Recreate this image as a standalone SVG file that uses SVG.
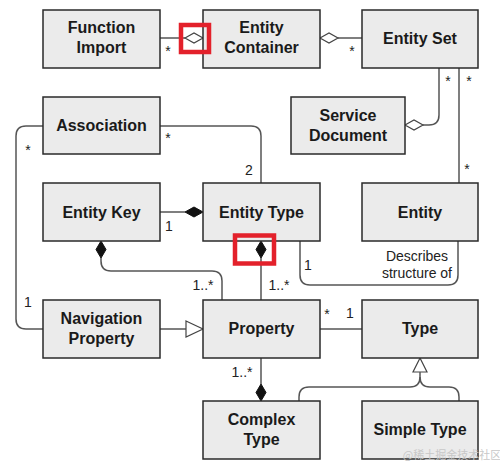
<svg xmlns="http://www.w3.org/2000/svg" width="500" height="465" viewBox="0 0 500 465">
<style>
.box{fill:#ebebeb;stroke:#2a2a2a;stroke-width:1.5}
.t{font-family:"Liberation Sans",Arial,sans-serif;font-weight:bold;font-size:16px;fill:#1a1a1a;text-anchor:middle}
.l{font-family:"Liberation Sans",Arial,sans-serif;font-size:14px;fill:#222;text-anchor:middle}
.c{fill:none;stroke:#555;stroke-width:1.5}
.fd{fill:#111;stroke:#111;stroke-width:1}
.hd{fill:#fff;stroke:#444;stroke-width:1.2}
.hl{fill:none;stroke:#e3212b;stroke-width:4.5}
</style>
<rect width="500" height="465" fill="#fff"/>
<g id="connectors">
  <path class="c" d="M160,38 H185"/>
  <polygon class="hd" points="185,38 194,33 203,38 194,43"/>
  <path class="c" d="M338,38 H362"/>
  <polygon class="hd" points="320,38 329,33 338,38 329,43"/>
  <path class="c" d="M160,126 H251 Q261,126 261,136 V183"/>
  <path class="c" d="M43,126 H26 Q16,126 16,136 V319 Q16,329 26,329 H43"/>
  <path class="c" d="M160,212 H185"/>
  <polygon class="fd" points="185,212 194,207 203,212 194,217"/>
  <polygon class="fd" points="101,241 106,249.5 101,258 96,249.5"/>
  <path class="c" d="M101,258 V261 Q101,271 111,271 H212 Q222,271 222,281 V300"/>
  <polygon class="fd" points="261,241 266,249.5 261,258 256,249.5"/>
  <path class="c" d="M261,258 V300"/>
  <path class="c" d="M300,241 V275 Q300,285 310,285 H448 Q458,285 458,275 V241"/>
  <path class="c" d="M459,68 V183"/>
  <path class="c" d="M439,68 V115 Q439,125 429,125 H423"/>
  <polygon class="hd" points="405,125 414,120 423,125 414,130"/>
  <path class="c" d="M160,329 H186"/>
  <polygon class="hd" points="186,321 203,329 186,337"/>
  <path class="c" d="M320,329 H362"/>
  <path class="c" d="M261,358 V384"/>
  <polygon class="fd" points="261,384 266,392.5 261,401 256,392.5"/>
  <polygon class="hd" points="420,358 427,372 413,372"/>
  <path class="c" d="M420,372 V377 Q420,387 410,387 H309 Q299,387 299,397 V401"/>
  <path class="c" d="M420,377 Q420,387 430,387 H449 Q459,387 459,397 V401"/>
</g>
<g id="function-import"><rect class="box" x="43" y="10" width="117" height="58"/><text class="t" x="101.5" y="33">Function</text><text class="t" x="101.5" y="53">Import</text></g>
<g id="entity-container"><rect class="box" x="203" y="10" width="117" height="58"/><text class="t" x="261.5" y="33">Entity</text><text class="t" x="261.5" y="53">Container</text></g>
<g id="entity-set"><rect class="box" x="362" y="10" width="116" height="58"/><text class="t" x="420" y="44">Entity Set</text></g>
<g id="association"><rect class="box" x="43" y="97" width="117" height="57"/><text class="t" x="101.5" y="131">Association</text></g>
<g id="service-document"><rect class="box" x="291" y="97" width="114" height="57"/><text class="t" x="348" y="121">Service</text><text class="t" x="348" y="141">Document</text></g>
<g id="entity-key"><rect class="box" x="43" y="183" width="117" height="58"/><text class="t" x="101.5" y="218">Entity Key</text></g>
<g id="entity-type"><rect class="box" x="203" y="183" width="117" height="58"/><text class="t" x="261.5" y="218">Entity Type</text></g>
<g id="entity"><rect class="box" x="362" y="183" width="116" height="58"/><text class="t" x="420" y="218">Entity</text></g>
<g id="navigation-property"><rect class="box" x="43" y="300" width="117" height="58"/><text class="t" x="101.5" y="324">Navigation</text><text class="t" x="101.5" y="344">Property</text></g>
<g id="property"><rect class="box" x="203" y="300" width="117" height="58"/><text class="t" x="261.5" y="334">Property</text></g>
<g id="type"><rect class="box" x="362" y="300" width="116" height="58"/><text class="t" x="420" y="334">Type</text></g>
<g id="complex-type"><rect class="box" x="203" y="401" width="117" height="58"/><text class="t" x="261.5" y="425">Complex</text><text class="t" x="261.5" y="445">Type</text></g>
<g id="simple-type"><rect class="box" x="362" y="401" width="116" height="58"/><text class="t" x="420" y="435">Simple Type</text></g>
<g id="labels">
  <text class="l" x="168" y="56">*</text>
  <text class="l" x="352" y="56">*</text>
  <text class="l" x="448" y="86">*</text>
  <text class="l" x="469" y="86">*</text>
  <text class="l" x="467" y="174">*</text>
  <text class="l" x="168" y="143">*</text>
  <text class="l" x="28" y="155">*</text>
  <text class="l" x="249" y="175">2</text>
  <text class="l" x="169" y="231">1</text>
  <text class="l" x="308" y="270">1</text>
  <text class="l" x="417" y="261">Describes</text>
  <text class="l" x="417" y="278">structure of</text>
  <text class="l" x="203" y="290">1..*</text>
  <text class="l" x="279" y="290">1..*</text>
  <text class="l" x="28" y="307">1</text>
  <text class="l" x="327" y="319">*</text>
  <text class="l" x="350" y="318">1</text>
  <text class="l" x="242" y="377">1..*</text>
</g>
<g id="highlights">
  <rect class="hl" x="181" y="25" width="28" height="27"/>
  <rect class="hl" x="235" y="235.5" width="39" height="28"/>
</g>
<text x="452" y="459" font-family="'Noto Sans CJK SC','Liberation Sans',sans-serif" font-size="11" fill="#c8c8c8" text-anchor="middle">@稀土掘金技术社区</text>
</svg>
